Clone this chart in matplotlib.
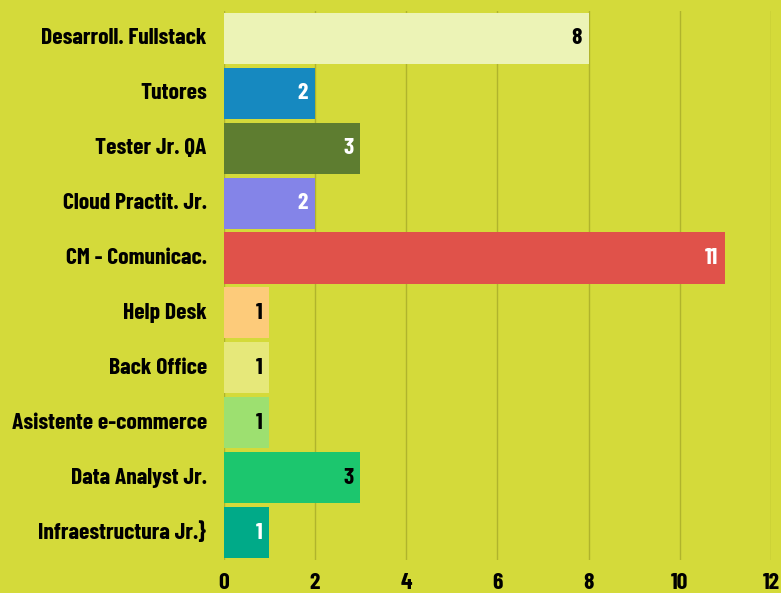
import matplotlib
matplotlib.use('Agg')
import matplotlib.pyplot as plt

# data (top to bottom)
categories = ['Desarroll. Fullstack', 'Tutores', 'Tester Jr. QA', 'Cloud Practit. Jr.',
              'CM - Comunicac.', 'Help Desk', 'Back Office', 'Asistente e-commerce',
              'Data Analyst Jr.', 'Infraestructura Jr.}']
values = [8, 2, 3, 2, 11, 1, 1, 1, 3, 1]
bar_colors = ['#ECF3B6', '#1689C0', '#5E7D30', '#8484E8', '#E0524A',
              '#FDCB7A', '#E6E87A', '#9DE070', '#1CC66E', '#00AA88']
label_colors = ['black', 'white', 'white', 'white', 'white',
                'black', 'black', 'black', 'black', 'white']
x_ticks = [0, 2, 4, 6, 8, 10, 12]

bg = '#D4DA3A'
plt.rcParams['font.family'] = ['Barlow Condensed', 'DejaVu Sans']
plt.rcParams['font.weight'] = 'bold'

fig = plt.figure(figsize=(7.81, 5.93), dpi=100, facecolor=bg)
ax = fig.add_axes([0.2862, 0.0556, 0.701, 0.926])
ax.set_facecolor(bg)

pos = list(range(len(categories)))
ax.barh(pos, values, height=0.93, color=bar_colors, linewidth=0, zorder=3)

# value labels inside the bar end
for p, v, c in zip(pos, values, label_colors):
    ax.text(v - 0.15, p, str(v), ha='right', va='center', color=c,
            fontsize=17, fontweight='bold', zorder=4)

ax.set_xlim(0, 12)
ax.set_ylim(len(categories) - 0.5, -0.5)
ax.set_yticks(pos)
ax.set_yticklabels(categories)
ax.set_xticks(x_ticks)
ax.tick_params(axis='y', length=0, pad=12, labelsize=17)
ax.tick_params(axis='x', length=0, pad=9, labelsize=17)
for lbl in ax.get_yticklabels():
    lbl.set_y(0)
    lbl.set_va('center')
ax.grid(axis='x', color='#B0B42C', linewidth=1, zorder=0)
for s in ax.spines.values():
    s.set_visible(False)

fig.savefig('out.png', dpi=100, facecolor=bg)
